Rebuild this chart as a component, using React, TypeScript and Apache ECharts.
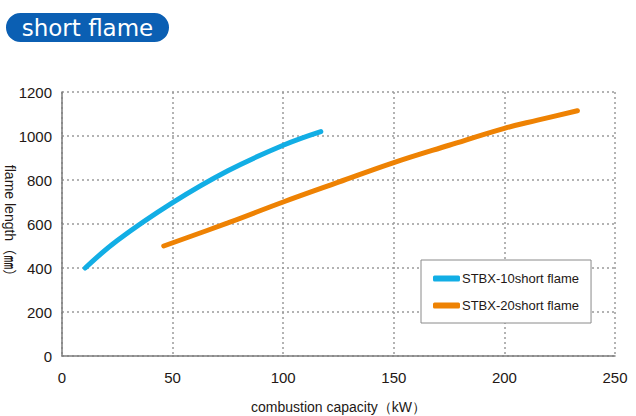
import React, { useEffect, useRef } from "react";
import * as echarts from "echarts";

const blueX = [10.5, 25, 50, 75, 100, 117];
const blueY = [400, 525, 697, 842, 958, 1020];
const orangeX = [46, 75, 100, 125, 150, 175, 200, 215, 233];
const orangeY = [500, 605, 700, 790, 879, 958, 1035, 1072, 1115];
const seriesNames = ["STBX-10short flame", "STBX-20short flame"];
const titleText = "short flame";
const xName = "combustion capacity\uFF08kW\uFF09";
const yName = "flame length\uFF08㎜\uFF09";

const FONT = "'Liberation Sans', Arial, sans-serif";

export default function App() {
  const ref = useRef<HTMLDivElement>(null);
  useEffect(() => {
    const chart = echarts.init(ref.current!, null, { renderer: "svg" });
    const pairs = (xs: number[], ys: number[]) => xs.map((x, i) => [x, ys[i]]);
    chart.setOption({
      animation: false,
      grid: { left: 62, right: 21, top: 92, bottom: 60, containLabel: false, outerBoundsMode: "none" },
      xAxis: {
        type: "value",
        min: 0,
        max: 250,
        interval: 50,
        name: xName,
        nameLocation: "middle",
        nameGap: 44,
        nameMoveOverlap: false,
        nameTextStyle: { color: "#231815", fontSize: 14, fontFamily: FONT },
        axisLine: { lineStyle: { color: "#7d7d7d", width: 1.5 } },
        axisTick: { show: false },
        axisLabel: { color: "#231815", fontSize: 15, fontFamily: FONT, margin: 14, formatter: (v: number) => String(v) },
        splitLine: { show: true, lineStyle: { type: [2, 3], color: "#9a9a9a", width: 1.5 } },
      },
      yAxis: {
        type: "value",
        min: 0,
        max: 1200,
        interval: 200,
        name: yName,
        nameLocation: "middle",
        nameRotate: -90,
        nameGap: 45,
        nameMoveOverlap: false,
        nameTextStyle: { color: "#231815", fontSize: 14, fontFamily: "'Liberation Sans', 'Noto Sans CJK JP', sans-serif" },
        axisLine: { show: true, lineStyle: { color: "#7d7d7d", width: 1.5 } },
        axisTick: { show: false },
        axisLabel: { color: "#231815", fontSize: 15, fontFamily: FONT, margin: 10, formatter: (v: number) => String(v) },
        splitLine: { show: true, lineStyle: { type: [2, 3], color: "#9a9a9a", width: 1.5 } },
      },
      legend: {
        orient: "vertical",
        left: 421,
        top: 260,
        padding: [12, 12, 11, 12],
        itemGap: 14,
        itemWidth: 27,
        itemHeight: 6,
        icon: "roundRect",
        borderColor: "#8a8a8a",
        borderWidth: 1,
        backgroundColor: "#fff",
        textStyle: { color: "#231815", fontSize: 13, fontFamily: FONT, padding: [0, 0, 0, -3] },
        data: seriesNames,
      },
      series: [
        {
          name: seriesNames[0],
          type: "line",
          smooth: 0.4,
          showSymbol: false,
          data: pairs(blueX, blueY),
          itemStyle: { color: "#12aee5" },
          lineStyle: { color: "#12aee5", width: 5, cap: "round" },
          z: 3,
        },
        {
          name: seriesNames[1],
          type: "line",
          smooth: 0.4,
          showSymbol: false,
          data: pairs(orangeX, orangeY),
          itemStyle: { color: "#ee8203" },
          lineStyle: { color: "#ee8203", width: 5, cap: "round" },
          z: 3,
        },
      ],
      graphic: [
        {
          type: "group",
          left: 6,
          top: 13,
          children: [
            {
              type: "rect",
              shape: { x: 0, y: 0, width: 163, height: 29, r: 14.5 },
              style: { fill: "#0b5fb3" },
            },
            {
              type: "text",
              x: 81.5,
              y: 15,
              style: {
                text: titleText,
                fill: "#ffffff",
                fontSize: 23,
                fontWeight: 500,
                fontFamily: "'DejaVu Sans', sans-serif",
                align: "center",
                verticalAlign: "middle",
              },
            },
          ],
        },
      ],
    });
    return () => chart.dispose();
  }, []);
  return <div ref={ref} style={{ width: 636, height: 416, position: "absolute", left: 0, top: 0 }} />;
}
